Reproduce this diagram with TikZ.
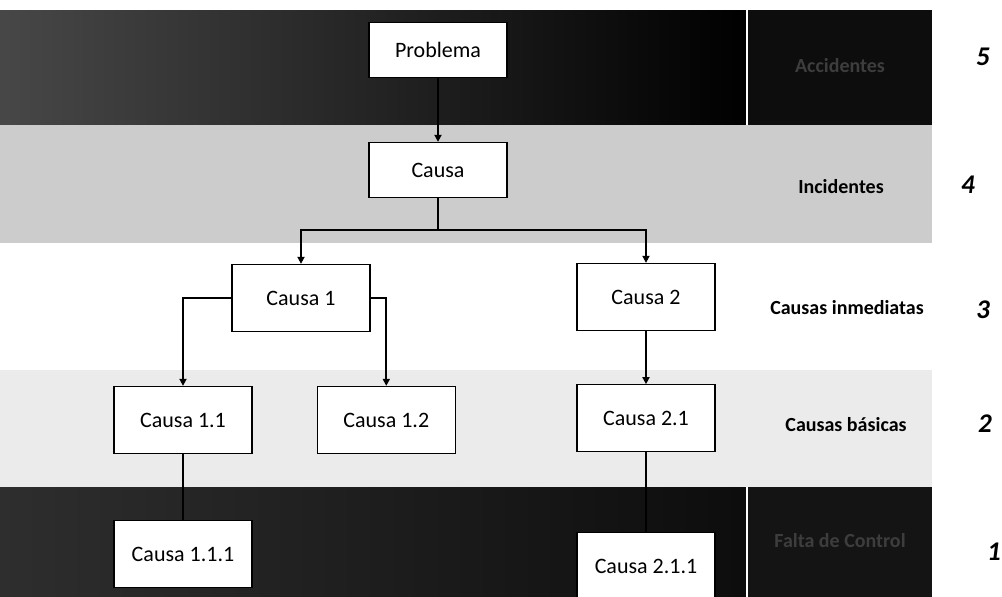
\documentclass[tikz,border=0pt]{standalone}
\usepackage{fontspec}
\setmainfont{Carlito}
\usetikzlibrary{arrows.meta,positioning}
\definecolor{BandDark}{gray}{0.12}
\definecolor{BandMid}{gray}{0.8}
\definecolor{BandLight}{gray}{0.92}
\definecolor{HiddenText}{gray}{0.24}

\begin{document}
\begin{tikzpicture}[x=1pt,y=-1pt]
    \tikzset{box/.style={draw=black,line width=1.3pt,fill=white,minimum width=138pt,minimum height=67pt,inner sep=0pt,font=\fontsize{22}{24}\selectfont},
      topbox/.style={box,minimum height=55pt},
      link/.style={line width=1.7pt},
      arr/.style={link,-{Triangle[length=7pt,width=7pt]}},
      level/.style={font=\fontsize{20}{22}\selectfont\bfseries},
      num/.style={font=\fontsize{27}{29}\selectfont\bfseries\itshape}}
    \useasboundingbox (0,0) rectangle (1002,597);
    % bandas
    \fill[left color=black!72,right color=black] (0,10) rectangle (747,125);
    \fill[black!95] (747,10) rectangle (932,125);
    \fill[BandMid] (0,125) rectangle (932,243);
    \fill[BandLight] (0,370) rectangle (932,487);
    \fill[left color=black!82,right color=black!95] (0,487) rectangle (747,597);
    \fill[black!92] (747,487) rectangle (932,597);
    \draw[white,line width=1.5pt] (747,10) -- (747,125) (747,487) -- (747,597);
    % nodos
    \node[topbox] (prob) at (438,50) {Problema};
    \node[topbox] (causa) at (438,170) {Causa};
    \node[box] (c1) at (301,298) {Causa 1};
    \node[box] (c2) at (646,297) {Causa 2};
    \node[box] (c11) at (183,420) {Causa 1.1};
    \node[box,right=64pt of c11] (c12) {Causa 1.2};
    \node[box,below=53pt of c2] (c21) {Causa 2.1};
    \node[box] (c111) at (183,554) {Causa 1.1.1};
    \node[box] (c211) at (646,566) {Causa 2.1.1};
    % niveles
    \node[level,text=HiddenText] (n5) at (840,66) {Accidentes};
    \node[level] (n4) at (841,187) {Incidentes};
    \node[level] (n3) at (847,308) {Causas inmediatas};
    \node[level] (n2) at (846,425) {Causas básicas};
    \node[level,text=HiddenText] (n1) at (840,541) {Falta de Control};
    \node[num] (k5) at (983,57) {5};
    \node[num] (k4) at (968,185) {4};
    \node[num] (k3) at (983,310) {3};
    \node[num] (k2) at (985,424) {2};
    \node[num] (k1) at (994,552) {1};
    % conectores
    \draw[arr] (prob) -- (causa);
    \coordinate (j) at ([yshift=-32pt]causa.south);
    \draw[link] (causa) -- (j);
    \draw[arr] (j) -| (c1);
    \draw[arr] (j) -| (c2);
    \draw[arr] (c1.west) -| (c11);
    \draw[arr] (c1.east) -| (c12);
    \draw[arr] (c2) -- (c21);
    \draw[link] (c11) -- (c111);
    \draw[link] (c21) -- (c211);
\end{tikzpicture}
\end{document}
